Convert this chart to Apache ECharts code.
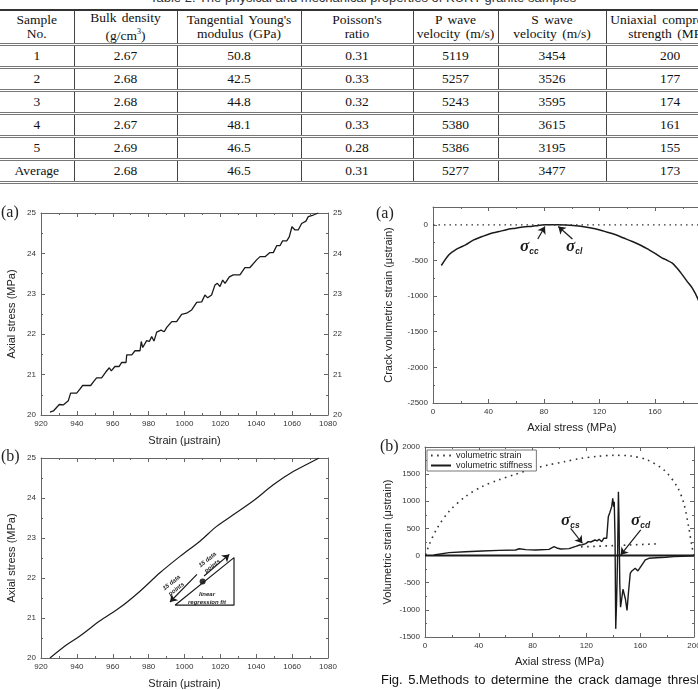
<!DOCTYPE html>
<html lang="en">
<head>
<meta charset="UTF-8">
<title>granite</title>
<script src="https://cdn.jsdelivr.net/npm/echarts@6/dist/echarts.min.js"></script>
<style>
  * { margin: 0; padding: 0; }
  body { width: 698px; height: 690px; overflow: hidden; background: #fff; position: relative; color: #111; }
  .ttl { position: absolute; top: -10px; left: 150px; font: 13px "Liberation Sans", Arial, sans-serif; color: #333; white-space: nowrap; }
  table { position: absolute; top: 9px; left: 0; table-layout: fixed; border-collapse: collapse;
    font: 13.5px "Liberation Serif", "Times New Roman", serif; color: #111; width: 734px; }
  th, td { text-align: center; border-left: 1px solid #444; border-right: 1px solid #444; border-bottom: 3px double #777;
    padding: 0; height: 20px; font-weight: normal; white-space: nowrap; word-spacing: 2px; }
  th { height: 28px; line-height: 14px; border-top: 2px solid #333; }
  tr > :first-child { border-left: none; }
  /* wider than the page so the right-hand panel runs past the edge, as in the scan */
  #chart { position: absolute; left: 0; top: 190px; width: 730px; height: 500px; }
  .fig { position: absolute; left: 381px; top: 672px; font: 13px "Liberation Sans", Arial, sans-serif; color: #111; white-space: nowrap; word-spacing: 2px; }
</style>
</head>
<body>
<div class="ttl">Table 2. The physical and mechanical properties of KURT granite samples</div>
<table id="tbl"></table>
<div id="chart"></div>
<div class="fig">Fig. 5.Methods to determine the crack damage threshold</div>
<script>
  // table
  var colWidths = [74, 103, 124, 112, 85, 108, 128]
  var tableHead = ["Sample<br>No.", "Bulk density<br>(g/cm<sup style='font-size:8px'>3</sup>)", "Tangential Young's<br>modulus (GPa)",
    "Poisson's<br>ratio", "P wave<br>velocity (m/s)", "S wave<br>velocity (m/s)", "Uniaxial compressive<br>strength (MPa)"]
  var tableRows = [
    ["1", "2.67", "50.8", "0.31", "5119", "3454", "200"],
    ["2", "2.68", "42.5", "0.33", "5257", "3526", "177"],
    ["3", "2.68", "44.8", "0.32", "5243", "3595", "174"],
    ["4", "2.67", "48.1", "0.33", "5380", "3615", "161"],
    ["5", "2.69", "46.5", "0.28", "5386", "3195", "155"],
    ["Average", "2.68", "46.5", "0.31", "5277", "3477", "173"]
  ]

  // (a) left: raw stress-strain
  var aStrain = [925, 926.9, 930.2, 932.4, 935.2, 936.5, 939.9, 941.7, 943.2, 947.7, 949.2, 951, 953.8, 956.2, 958.1, 959.2, 961.2, 963.5, 965, 967.4, 967.8, 970.6, 972.4, 975.2, 975.9, 976.7, 978.9, 980.4, 981.7, 983, 984.5, 986.9, 988.7, 990.1, 992.9, 995.6, 998.4, 1001.2, 1004, 1006.8, 1009.6, 1011.4, 1012.9, 1015.1, 1017, 1018.3, 1019.8, 1021.3, 1022.6, 1025, 1027.2, 1030.9, 1033.7, 1036.5, 1040.2, 1042.1, 1044.9, 1047.6, 1049.5, 1051.4, 1053.2, 1054.7, 1057, 1058.4, 1059.9, 1061.6, 1063.4, 1065.3, 1067.7, 1069, 1071.8, 1074.6]
  var aStress = [20.07, 20.1, 20.26, 20.25, 20.35, 20.54, 20.54, 20.64, 20.73, 20.73, 20.82, 20.92, 20.92, 21.07, 21.17, 21.09, 21.2, 21.2, 21.3, 21.3, 21.49, 21.49, 21.59, 21.59, 21.82, 21.67, 21.84, 21.82, 21.94, 21.83, 22.05, 22.1, 22.06, 22.17, 22.31, 22.31, 22.49, 22.52, 22.6, 22.79, 22.8, 22.97, 22.9, 22.97, 23.22, 23.26, 23.18, 23.34, 23.26, 23.42, 23.47, 23.47, 23.65, 23.65, 23.84, 23.92, 23.92, 24.02, 24.02, 24.19, 24.19, 24.31, 24.31, 24.41, 24.66, 24.58, 24.58, 24.74, 24.8, 24.91, 24.95, 25.0]

  // (b) left: smoothed curve
  var bStrain = [925, 934.3, 941.7, 952.9, 964, 975.2, 986.3, 997.5, 1008.6, 1017.9, 1027.2, 1038.4, 1049.5, 1060.6, 1073.7, 1075]
  var bStress = [20.0, 20.33, 20.55, 20.93, 21.26, 21.67, 22.13, 22.54, 22.92, 23.29, 23.58, 23.93, 24.33, 24.66, 24.97, 25.0]
  var triStrain = [994.7, 1027.6, 1027.6, 994.7]
  var triStress = [21.32, 22.51, 21.32, 21.32]
  var fitPoint = [1010.1, 21.91]
  var arrowLo = [[1006.96, 22.09], [991.9, 21.40]]
  var arrowHi = [[1010.9, 22.05], [1025.0, 22.59]]

  // (a) right: crack volumetric strain
  var crackStress = [6, 11.5, 17, 23.5, 29, 35.5, 41, 47.6, 53, 59.6, 65, 71.6, 76, 80, 85, 90, 95.6, 101, 107.6, 113, 119.6, 125, 131.7, 137, 143.7, 150, 155.7, 160, 165.3, 168, 172.5, 176, 179.7, 183, 186.9, 191, 195, 200]
  var crackValue = [-571, -421, -340, -281, -215, -164, -125, -94, -68, -47, -30, -19, -8, 0, 0, 0, -3, -10, -23, -42, -70, -100, -140, -182, -234, -290, -351, -400, -468, -490, -538, -610, -702, -790, -889, -1043, -1250, -1480]
  var zeroX = [0, 200]
  var zeroY = [0, 0]
  var ccArrow = [[75.5, -200], [80.7, -24]]
  var clArrow = [[100.5, -200], [90.3, -24]]

  // (b) right: volumetric strain and stiffness
  var volStress = [0.5, 3, 9, 17.7, 30, 42.3, 54.6, 67, 79, 91.5, 103.8, 116, 128.4, 140.7, 153, 165.3, 177.6, 187.5, 192.4, 196, 198.5, 200]
  var volStrain = [10, 195, 503, 809, 1085, 1269, 1392, 1497, 1589, 1669, 1730, 1791, 1828, 1847, 1835, 1761, 1577, 1269, 963, 532, 164, 0]
  var stiffStress = [6.7, 17.8, 30, 42.6, 55, 67.4, 70, 74.9, 82.3, 92.2, 95.9, 98, 100.9, 107.1, 112.1, 115, 117, 119.5, 121.4, 123.2, 124.5, 126.4, 128, 129.5, 131.4, 133, 134.2, 135.1, 136.3, 137.5, 138.8, 139.6, 140.3, 140.7, 141.3, 141.8, 142.5, 143.2, 143.8, 144.3, 144.8, 145.4, 146.3, 147.2, 148, 149, 150.2, 151.2, 152.6, 153.8, 156.3, 158.3, 161.3, 163.8, 166.5, 172, 178.9, 185, 191.2, 200]
  var stiffValue = [11, 54, 70, 85, 95, 103, 125, 110, 103, 115, 164, 140, 121, 128, 170, 195, 200, 220, 256, 250, 280, 287, 270, 300, 256, 320, 290, 318, 717, 800, 901, 1055, 900, 993, 300, -1350, -800, 0, 1177, 600, -500, -950, -970, -620, -650, -800, -1010, -700, -330, -283, -234, -283, -173, -81, -50, -40, -31, -20, -12, -3]
  var tanStress = [116, 172]
  var tanValue = [160, 215]
  var csArrow = [[108.3, 503], [117, 227]]
  var cdArrow = [[160.4, 472], [145.5, 11]]

  // build the table
  var html = "<colgroup>" + colWidths.map(function (w) { return "<col style='width:" + w + "px'>" }).join("") + "</colgroup>"
  html += "<tr>" + tableHead.map(function (h) { return "<th>" + h + "</th>" }).join("") + "</tr>"
  tableRows.forEach(function (r) {
    html += "<tr>" + r.map(function (c) { return "<td>" + c + "</td>" }).join("") + "</tr>"
  })
  document.getElementById("tbl").innerHTML = html

  function zip(xs, ys) {
    return xs.map(function (x, i) { return [x, ys[i]] })
  }

  var axisColor = '#666'
  var ink = '#1a1a1a'
  var labelFont = { fontSize: 8, color: '#333', fontFamily: 'Liberation Sans' }
  var nameFont = { fontSize: 11, color: '#222', fontFamily: 'Liberation Sans' }

  function axis(grid, min, max, step, pos, showLabel, name, gap) {
    return {
      type: 'value', gridIndex: grid, position: pos, min: min, max: max, interval: step,
      name: name || '', nameLocation: 'middle', nameGap: gap || 0, nameTextStyle: nameFont,
      axisLine: { onZero: false, lineStyle: { color: axisColor, width: 1 } },
      axisTick: { inside: true, length: 4, lineStyle: { color: axisColor } },
      minorTick: { show: true, splitNumber: 2, length: 2, lineStyle: { color: axisColor } },
      axisLabel: Object.assign({ show: showLabel, margin: 5, formatter: function (v) { return String(v) } }, labelFont),
      splitLine: { show: false }
    }
  }

  var xAxes = [
    axis(0, 920, 1080, 20, 'bottom', true, 'Strain (\u03bcstrain)', 20),
    axis(0, 920, 1080, 20, 'top', false),
    axis(1, 920, 1080, 20, 'bottom', true, 'Strain (\u03bcstrain)', 20),
    axis(1, 920, 1080, 20, 'top', false),
    axis(2, 0, 200, 40, 'bottom', true, 'Axial stress (MPa)', 19),
    axis(2, 0, 200, 40, 'top', false),
    axis(3, 0, 200, 40, 'bottom', true, 'Axial stress (MPa)', 19),
    axis(3, 0, 200, 40, 'top', false)
  ]
  var yAxes = [
    axis(0, 20, 25, 1, 'left', true, 'Axial stress (MPa)', 24),
    axis(0, 20, 25, 1, 'right', true),
    axis(1, 20, 25, 1, 'left', true, 'Axial stress (MPa)', 24),
    axis(1, 20, 25, 1, 'right', false),
    axis(2, -2500, 250, 500, 'left', true, 'Crack volumetric strain (\u03bcstrain)', 39),
    axis(2, -2500, 250, 500, 'right', false),
    axis(3, -1500, 2000, 500, 'left', true, 'Volumetric strain (\u03bcstrain)', 32),
    axis(3, -1500, 2000, 500, 'right', false)
  ]
  yAxes[4].axisLabel.showMaxLabel = false

  // arrows drawn as a lines series in the panel's own axes
  function arrows(xi, pairs) {
    return {
      type: 'lines', coordinateSystem: 'cartesian2d', xAxisIndex: xi, yAxisIndex: xi, silent: true,
      symbol: ['none', 'arrow'], symbolSize: 7,
      lineStyle: { color: ink, width: 1.2, opacity: 1 },
      data: pairs.map(function (p) { return { coords: p } })
    }
  }

  function sigma(sub, x, y) {
    return {
      type: 'text', x: x, y: y,
      style: {
        text: '{s|\u03c3}{b|' + sub + '}', fill: ink,
        rich: {
          s: { fontSize: 17, fontWeight: 'bold', fontStyle: 'italic', fontFamily: 'Liberation Serif', fill: ink },
          b: { fontSize: 8.5, fontWeight: 'bold', fontStyle: 'italic', fontFamily: 'Liberation Sans', fill: ink, padding: [10, 0, 0, 0] }
        }
      }
    }
  }

  function panelTag(t, x, y) {
    return { type: 'text', x: x, y: y, style: { text: t, font: '16px "Liberation Serif"', fill: '#222' } }
  }

  function smallNote(t, x, y, rot) {
    return {
      type: 'text', x: x, y: y, rotation: rot || 0,
      style: { text: t, font: 'italic bold 6px "Liberation Sans"', fill: '#222', align: 'center', verticalAlign: 'middle', lineHeight: 8 }
    }
  }

  var myChart = echarts.init(document.getElementById('chart'))
  var option = {
    animation: false,
    grid: [
      { left: 41, top: 23, width: 287, height: 202 },
      { left: 41, top: 268, width: 287, height: 201 },
      { left: 433, top: 17, width: 277.5, height: 196 },
      { left: 425, top: 257, width: 269, height: 190 }
    ],
    xAxis: xAxes,
    yAxis: yAxes,
    legend: {
      data: ['volumetric strain', 'volumetric stiffness'],
      orient: 'vertical', left: 427, top: 260,
      itemWidth: 20, itemHeight: 8, itemGap: 1, padding: [1, 4, 1, 3],
      borderColor: '#555', borderWidth: 0.8, backgroundColor: '#fff',
      itemStyle: { opacity: 0 },
      textStyle: { fontSize: 9, color: '#222', fontFamily: 'Liberation Sans' }
    },
    series: [
      {
        type: 'line', xAxisIndex: 0, yAxisIndex: 0, data: zip(aStrain, aStress),
        symbol: 'none', lineStyle: { color: ink, width: 1.3 }
      },
      {
        type: 'line', xAxisIndex: 2, yAxisIndex: 2, data: zip(bStrain, bStress),
        symbol: 'none', smooth: 0.3, lineStyle: { color: ink, width: 1.2 }
      },
      {
        type: 'line', xAxisIndex: 2, yAxisIndex: 2, data: zip(triStrain, triStress),
        symbol: 'none', lineStyle: { color: ink, width: 1.2 }
      },
      arrows(2, [arrowLo, arrowHi]),
      {
        type: 'scatter', xAxisIndex: 2, yAxisIndex: 2, data: [fitPoint],
        symbolSize: 6, itemStyle: { color: '#000' }
      },
      {
        type: 'line', xAxisIndex: 4, yAxisIndex: 4, data: zip(crackStress, crackValue),
        symbol: 'none', smooth: 0.3, lineStyle: { color: ink, width: 1.5 }
      },
      arrows(4, [ccArrow, clArrow]),
      {
        type: 'line', xAxisIndex: 4, yAxisIndex: 4, data: zip(zeroX, zeroY),
        symbol: 'none', lineStyle: { color: '#333', width: 1.2, type: [1.5, 4] }
      },
      {
        name: 'volumetric strain', type: 'line', xAxisIndex: 6, yAxisIndex: 6, data: zip(volStress, volStrain),
        symbol: 'none', smooth: 0.3, itemStyle: { color: '#333' },
        lineStyle: { color: '#333', width: 1.6, type: [1.6, 4.5] }
      },
      {
        name: 'volumetric stiffness', type: 'line', xAxisIndex: 6, yAxisIndex: 6, data: zip(stiffStress, stiffValue),
        symbol: 'none', itemStyle: { color: ink }, lineStyle: { color: ink, width: 1.4 }
      },
      arrows(6, [csArrow, cdArrow]),
      {
        type: 'line', xAxisIndex: 6, yAxisIndex: 6, data: zip(zeroX, zeroY),
        symbol: 'none', lineStyle: { color: ink, width: 2 }
      },
      {
        type: 'line', xAxisIndex: 6, yAxisIndex: 6, data: zip(tanStress, tanValue),
        symbol: 'none', lineStyle: { color: '#333', width: 1.6, type: [1.6, 4.5] }
      }
    ],
    graphic: [
      panelTag('(a)', 1, 15),
      panelTag('(b)', 1, 259),
      panelTag('(a)', 376, 16),
      panelTag('(b)', 380, 249),
      sigma('cc', 520, 47),
      sigma('cl', 566, 47),
      sigma('cs', 561, 321),
      sigma('cd', 631, 321),
      smallNote('15 data\npoints', 174, 396, 0.66),
      smallNote('15 data\npoints', 210, 373, 0.66),
      smallNote('linear\nregression fit', 207, 408)
    ]
  }
  myChart.setOption(option)
</script>
</body>
</html>
